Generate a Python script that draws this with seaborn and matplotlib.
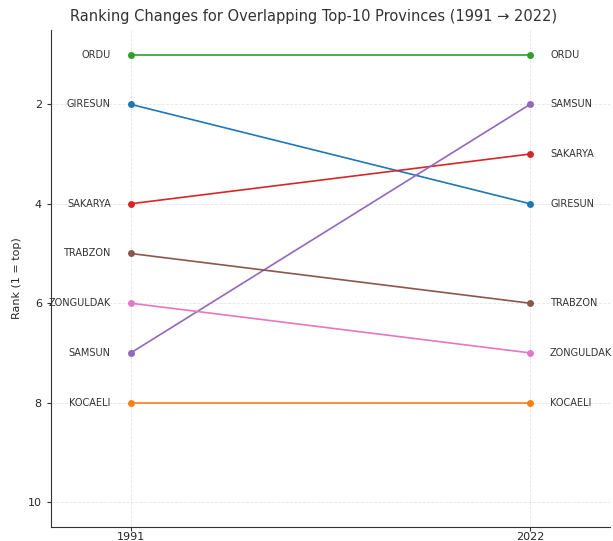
import pandas as pd
import seaborn as sns
import matplotlib.pyplot as plt

# Ranks of provinces that are top-10 in both years
provinces = ['GIRESUN', 'KOCAELI', 'ORDU', 'SAKARYA', 'SAMSUN', 'TRABZON', 'ZONGULDAK']
rank_1991 = [2, 8, 1, 4, 7, 5, 6]
rank_2022 = [4, 8, 1, 3, 2, 6, 7]
years = ['1991', '2022']

df = pd.DataFrame({
    'province': provinces * 2,
    'pos': [0] * len(provinces) + [1] * len(provinces),
    'rank': rank_1991 + rank_2022,
})

sns.set_style('ticks')
fig, ax = plt.subplots(figsize=(6.13, 5.41), dpi=100)
fig.subplots_adjust(left=0.083, right=0.995, top=0.945, bottom=0.026)

palette = dict(zip(provinces, sns.color_palette('tab10', len(provinces))))
sns.lineplot(data=df, x='pos', y='rank', hue='province', hue_order=provinces,
             palette=palette, marker='o', markersize=5, markeredgewidth=0,
             linewidth=1.2, legend=False, ax=ax)

# labels on both sides
for p, r0, r1 in zip(provinces, rank_1991, rank_2022):
    ax.text(-0.05, r0, p, ha='right', va='center', fontsize=7, color='#333333')
    ax.text(1.05, r1, p, ha='left', va='center', fontsize=7, color='#333333')

ax.set_xlim(-0.2, 1.2)
ax.set_ylim(10.5, 0.5)
ax.set_xticks([0, 1])
ax.set_xticklabels(years)
ax.set_yticks([2, 4, 6, 8, 10])
ax.set_xlabel('')
ax.set_ylabel('Rank (1 = top)', fontsize=8)
ax.tick_params(labelsize=8, length=3, color='#333333')
ax.tick_params(axis='x', pad=1)
ax.grid(True, linestyle='--', linewidth=0.6, alpha=0.5)
ax.set_title('Ranking Changes for Overlapping Top-10 Provinces (1991 \u2192 2022)',
             fontsize=10.5, color='#333333', x=0.47)
sns.despine(ax=ax)
for s in ['left', 'bottom']:
    ax.spines[s].set_color('#333333')

plt.savefig('out.png', dpi=100)
